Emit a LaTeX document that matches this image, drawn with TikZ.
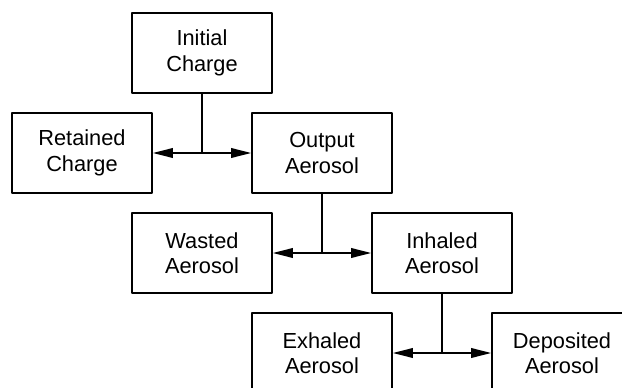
\documentclass[tikz,border=0pt]{standalone}
\usepackage{fontspec}
\setmainfont{Liberation Sans}
\usetikzlibrary{arrows.meta}

\begin{document}
\begin{tikzpicture}[line cap=round,line join=round,x=1.0cm,y=1.0cm,
	>={Triangle[length=5mm,width=2.4mm]},
	stage/.style={draw,line width=1.2pt,minimum width=3.5cm,minimum height=2cm,
		align=center,font=\fontsize{15.5}{18}\selectfont}]
	\useasboundingbox (0,0) rectangle (15.55,-9.7);
	\clip (0,0) rectangle (15.55,-9.7);
	% boxes
	\node[stage] (init) at (5.05,-1.325) {Initial\\Charge};
	\node[stage] (ret) at (2.05,-3.825) {Retained\\Charge};
	\node[stage] (out) at (8.05,-3.825) {Output\\Aerosol};
	\node[stage] (waste) at (5.05,-6.325) {Wasted\\Aerosol};
	\node[stage] (inh) at (11.05,-6.325) {Inhaled\\Aerosol};
	\node[stage] (exh) at (8.05,-8.825) {Exhaled\\Aerosol};
	\node[stage] (dep) at (14.05,-8.825) {Deposited\\Aerosol};
	% splits
	\draw [line width=1.2pt] (init.south) -- (init.south |- out.west);
	\draw [line width=1.2pt,<->] (ret.east) -- (out.west);
	\draw [line width=1.2pt] (out.south) -- (out.south |- inh.west);
	\draw [line width=1.2pt,<->] (waste.east) -- (inh.west);
	\draw [line width=1.2pt] (inh.south) -- (inh.south |- dep.west);
	\draw [line width=1.2pt,<->] (exh.east) -- (dep.west);
\end{tikzpicture}
\end{document}
